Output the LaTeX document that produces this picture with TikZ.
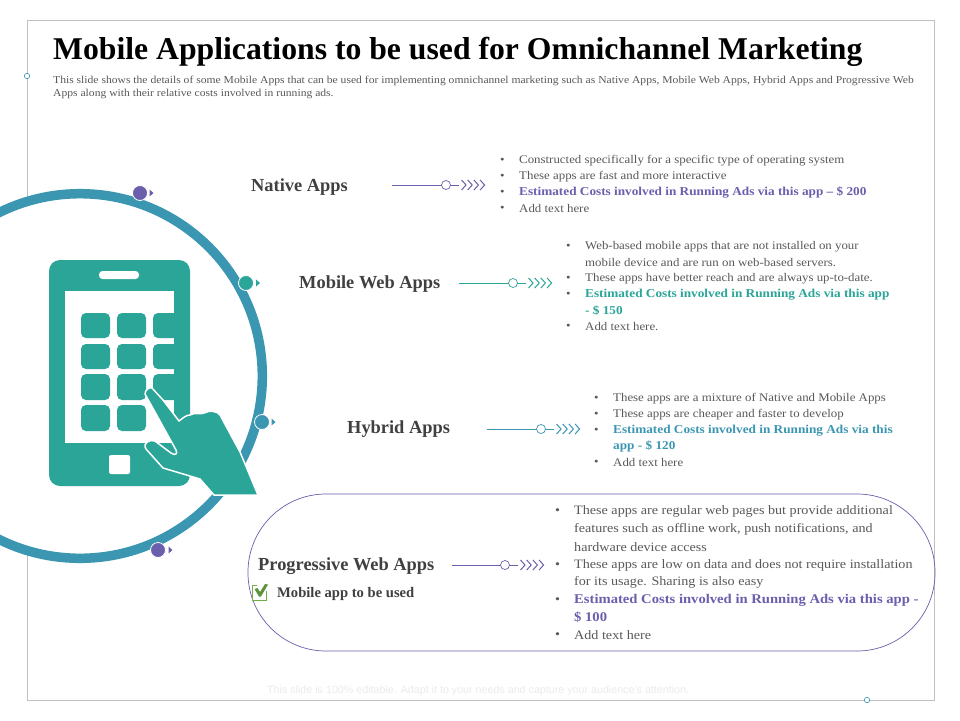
\documentclass[tikz,border=0pt]{standalone}
\usepackage{fontspec}
\setmainfont{Liberation Serif}
\setsansfont{Liberation Sans}
\newfontfamily\bodyf[FakeStretch=1.1]{Liberation Serif}
\definecolor{ringc}{HTML}{3B96B2}
\definecolor{tealc}{HTML}{2AA598}
\definecolor{purpc}{HTML}{6A5FAD}
\definecolor{headc}{HTML}{404040}
\definecolor{bodyc}{HTML}{595959}
\definecolor{framec}{HTML}{BFBFBF}
\definecolor{greenc}{HTML}{70AD47}
\tikzset{
 txt/.style={anchor=west,inner sep=0pt,yshift=-1.5pt,text=bodyc,font=\bodyf\fontsize{11.7}{14}\selectfont},
 txtc/.style={txt,text=#1,font=\bodyf\bfseries\fontsize{12.05}{14}\selectfont},
 txtb/.style={txt,font=\bodyf\fontsize{12.85}{16}\selectfont},
 txtbc/.style={txt,text=#1,font=\bodyf\bfseries\fontsize{13.3}{16}\selectfont},
 lab/.style={anchor=west,inner sep=0pt,yshift=-2pt,text=headc,font=\bfseries\fontsize{18.4}{22}\selectfont},
 dotc/.style={circle,draw=white,line width=0.8pt,minimum size=15pt,inner sep=0pt},
 ring/.style={circle,draw=#1,fill=white,line width=0.7pt,minimum size=9pt,inner sep=0pt},
 conn/.style={draw=#1,line width=0.8pt},
 chev/.style={draw=#1,line width=1pt},
 key/.style={fill=tealc,rounded corners=5pt},
}
\newcommand{\chevs}[3]{\foreach \k in {0,1,2,3}{\draw[chev=#3] ({#1+\k*6.2},{#2-5}) -- ({#1+\k*6.2+4.5},#2) -- ({#1+\k*6.2},{#2+5});}}
\newcommand{\tri}[3]{\fill[#3] (#1,{#2-3.5}) -- ({#1+4},#2) -- (#1,{#2+3.5}) -- cycle;}
\begin{document}
\begin{tikzpicture}[x=1pt,y=-1pt]
\useasboundingbox (0,0) rectangle (960,720);
\clip (0,0) rectangle (960,720);
\fill[white] (0,0) rectangle (960,720);
% frame
\draw[framec,line width=0.7pt] (27,20) rectangle (934,700);
\node[circle,draw=ringc,fill=white,line width=0.6pt,minimum size=5.5pt,inner sep=0pt] (fa) at (27,76) {};
\node[circle,draw=ringc,fill=white,line width=0.6pt,minimum size=5.5pt,inner sep=0pt] (fb) at (867,700) {};
% title
\node[anchor=west,inner sep=0pt,yshift=-3pt,text=black,font=\bfseries\fontsize{31.7}{36}\selectfont] (title) at (53,49) {Mobile Applications to be used for Omnichannel Marketing};
\node[txt,font=\bodyf\fontsize{10.55}{12}\selectfont] (d1) at (53,79) {This slide shows the details of some Mobile Apps that can be used for implementing omnichannel marketing such as Native Apps, Mobile Web Apps, Hybrid Apps and Progressive Web};
\node[txt,font=\bodyf\fontsize{10.55}{12}\selectfont] (d2) at (53,92) {Apps along with their relative costs involved in running ads.};
% ring
\draw[ringc,fill=white,line width=9.5pt] (80,376) circle (182.3);
% phone
\fill[tealc,rounded corners=11pt] (49,260) rectangle (190,486);
\fill[white] (65,291) rectangle (174,443);
\fill[white,rounded corners=3.5pt] (99,271) rectangle (139,279);
\fill[white,rounded corners=2pt] (109,455) rectangle (130,474);
\foreach \yy/\hh in {313/25,344/25,374/26}{
 \fill[key] (81,\yy) rectangle ++(29,\hh);
 \fill[key] (117,\yy) rectangle ++(29,\hh);
 \begin{scope}
 \clip (150,300) rectangle (174,440);
 \fill[key] (153,\yy) rectangle ++(30,\hh);
 \end{scope}
}
\fill[key] (81,405) rectangle ++(29,26);
\fill[key] (117,405) rectangle ++(29,26);
% hand
\draw[white,fill=tealc,line width=1.5pt,line join=round]
 (145,394) .. controls (145,390) and (149,387) .. (152,388) -- (163,400) -- (179,421)
 .. controls (183,418) and (186,415) .. (190,415) .. controls (195,412) and (200,415) .. (204,413) .. controls (210,410) and (217,411) .. (220,415)
 -- (240,452) -- (258,495) -- (214,495) -- (200,479) -- (163,468)
 -- (146,449) .. controls (142,443) and (150,439) .. (155,441) -- (171,453) .. controls (175,456) and (178,454) .. (176,450) -- cycle;
% dots
\node[dotc,fill=purpc] (p1) at (140,193) {};
\node[dotc,fill=tealc] (p2) at (246,283) {};
\node[dotc,fill=ringc] (p3) at (262,422) {};
\node[dotc,fill=purpc] (p4) at (158,550) {};
\tri{149.5}{193}{purpc}
\tri{256}{283}{tealc}
\tri{271.5}{422}{ringc}
\tri{168.5}{550}{purpc}
% stadium
\draw[purpc,line width=0.7pt,rounded corners=78pt] (248,494) rectangle (935,651);
% labels
\node[lab] (l1) at (251,185) {Native Apps};
\node[lab] (l2) at (299,282) {Mobile Web Apps};
\node[lab] (l3) at (347,427) {Hybrid Apps};
\node[lab] (l4) at (258,564) {Progressive Web Apps};
% connectors
\coordinate (s1) at (392,185); \coordinate (e1) at (459,185);
\coordinate (s2) at (459,283); \coordinate (e2) at (526,283);
\coordinate (s3) at (487,429); \coordinate (e3) at (554,429);
\coordinate (s4) at (452,565); \coordinate (e4) at (518,565);
\draw[conn=purpc] (s1) -- (e1);
\draw[conn=tealc] (s2) -- (e2);
\draw[conn=ringc] (s3) -- (e3);
\draw[conn=purpc] (s4) -- (e4);
\node[ring=purpc] (c1) at (446,185) {};
\node[ring=tealc] (c2) at (513,283) {};
\node[ring=ringc] (c3) at (541,429) {};
\node[ring=purpc] (c4) at (505,565) {};
\chevs{461.5}{185}{purpc}
\chevs{528.5}{283}{tealc}
\chevs{556.5}{429}{ringc}
\chevs{520.5}{565}{purpc}
% native text
\foreach \y in {159,175,191,207}{\node[txt] at (500,\y) {•};}
\node[txt] (a1) at (519,159) {Constructed specifically for a specific type of operating system};
\node[txt] (a2) at (519,175) {These apps are fast and more interactive};
\node[txtc=purpc] (a3) at (519,191) {Estimated Costs involved in Running Ads via this app – \$ 200};
\node[txt] (a4) at (519,207) {Add text here};
% mobile text
\foreach \y in {245,277,293,325}{\node[txt] at (566,\y) {•};}
\node[txt] (b1) at (585,245) {Web-based mobile apps that are not installed on your};
\node[txt] (b2) at (585,261) {mobile device and are run on web-based servers.};
\node[txt] (b3) at (585,277) {These apps have better reach and are always up-to-date.};
\node[txtc=tealc] (b4) at (585,293) {Estimated Costs involved in Running Ads via this app};
\node[txtc=tealc] (b5) at (585,309) {- \$ 150};
\node[txt] (b6) at (585,325) {Add text here.};
% hybrid text
\foreach \y in {397,413,429,461}{\node[txt] at (594,\y) {•};}
\node[txt] (h1) at (613,397) {These apps are a mixture of Native and Mobile Apps};
\node[txt] (h2) at (613,413) {These apps are cheaper and faster to develop};
\node[txtc=ringc] (h3) at (613,429) {Estimated Costs involved in Running Ads via this};
\node[txtc=ringc] (h4) at (613,445) {app - \$ 120};
\node[txt] (h5) at (613,461) {Add text here};
% progressive text
\foreach \y in {510,564,599,634}{\node[txtb] at (555,\y) {•};}
\node[txtb] (g1) at (574,510) {These apps are regular web pages but provide additional};
\node[txtb] (g2) at (574,528) {features such as offline work, push notifications, and};
\node[txtb] (g3) at (574,546) {hardware device access};
\node[txtb] (g4) at (574,564) {These apps are low on data and does not require installation};
\node[txtb] (g5) at (574,581) {for its usage. Sharing is also easy};
\node[txtbc=purpc] (g6) at (574,599) {Estimated Costs involved in Running Ads via this app -};
\node[txtbc=purpc] (g7) at (574,616) {\$ 100};
\node[txtb] (g8) at (574,634) {Add text here};
% checkbox
\draw[greenc,line width=1pt] (252,585) rectangle (266,600);
\fill[white] (257,583) rectangle (269,591);
\fill[greenc!85!black] (254.5,589) -- (257.5,588) -- (260,592) -- (265,584) -- (268,584.5) -- (261,596.5) -- (259,596.5) -- cycle;
\node[anchor=west,inner sep=0pt,yshift=-1.5pt,text=headc,font=\bfseries\fontsize{14.6}{16}\selectfont] (m) at (277,592) {Mobile app to be used};
% footer
\node[anchor=west,inner sep=0pt,yshift=-1.5pt,text=black!8,font=\sffamily\fontsize{10.7}{12}\selectfont] (ft) at (267,689) {This slide is 100\% editable. Adapt it to your needs and capture your audience's attention.};
\end{tikzpicture}
\end{document}
